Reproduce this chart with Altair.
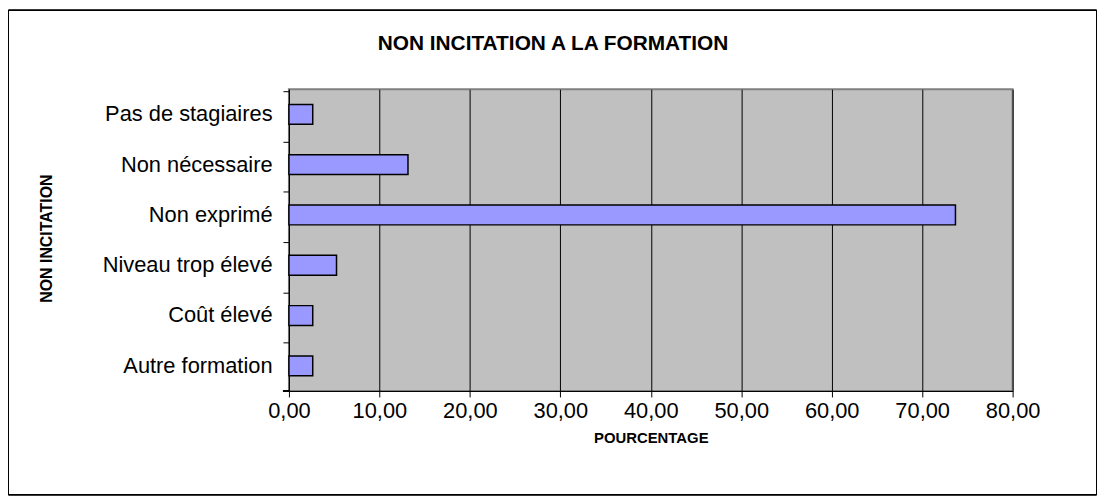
import altair as alt
import pandas as pd

categories = ["Pas de stagiaires", "Non nécessaire", "Non exprimé",
              "Niveau trop élevé", "Coût élevé", "Autre formation"]
values = [2.63, 13.16, 73.68, 5.26, 2.63, 2.63]
x_ticks = [0, 10, 20, 30, 40, 50, 60, 70, 80]
title_text = "NON INCITATION A LA FORMATION"

df = pd.DataFrame({"cat": categories, "val": values})

FONT = "Liberation Sans"
PW, PH = 729, 304

bars = alt.Chart(df).mark_bar(
    size=20, color="#9999FF", stroke="black", strokeWidth=1.5
).encode(
    x=alt.X("val:Q",
            scale=alt.Scale(domain=[0, 80], nice=False),
            axis=alt.Axis(values=x_ticks, title="POURCENTAGE",
                          labelExpr="replace(format(datum.value, '.2f'), '.', ',')",
                          labelFlush=False,
                          grid=True, gridColor="black", gridWidth=1,
                          domainColor="black", tickColor="black", tickSize=6,
                          labelFontSize=22, labelFont=FONT, labelColor="black",
                          labelPadding=4,
                          titleFont=FONT, titleFontSize=15, titleFontWeight="bold",
                          titleColor="black", titleBaseline="middle", titleY=47)),
    y=alt.Y("cat:N", sort=categories,
            axis=alt.Axis(title="NON INCITATION", bandPosition=0,
                          grid=False, domainColor="black", tickColor="black",
                          tickSize=6, labelFontSize=22, labelFont=FONT,
                          labelColor="black", labelPadding=11,
                          titleFont=FONT, titleFontSize=16, titleFontWeight="bold",
                          titleColor="black", titleX=-244, titleY=PH / 2 - 2,
                          titleAngle=270, titleBaseline="middle",
                          titleAlign="center"))
)

bottom_tick = alt.Chart(df).mark_rule(color="black", strokeWidth=1).encode(
    x=alt.value(-6), x2=alt.value(0), y=alt.value(PH)
)

frame = alt.Chart(df).mark_rect(
    fillOpacity=0, stroke="black", strokeWidth=1
).encode(
    x=alt.value(-282.5), x2=alt.value(813.5),
    y=alt.value(-79.5), y2=alt.value(408.5)
)

title = alt.Chart(pd.DataFrame({"t": [title_text]})).mark_text(
    font=FONT, fontSize=21, fontWeight="bold", color="black",
    align="center", baseline="middle"
).encode(
    text="t:N", x=alt.value(266), y=alt.value(-46)
)

chart = alt.layer(bars, bottom_tick, frame, title).properties(
    width=PW, height=PH,
    autosize=alt.AutoSizeParams(type="none"),
    padding={"left": 283, "top": 80, "right": 86, "bottom": 108},
).configure(
    background="white"
).configure_view(
    fill="#C0C0C0", stroke="#808080", strokeWidth=2
)

chart.save("out.html", embed_options={"renderer": "svg", "actions": False})
